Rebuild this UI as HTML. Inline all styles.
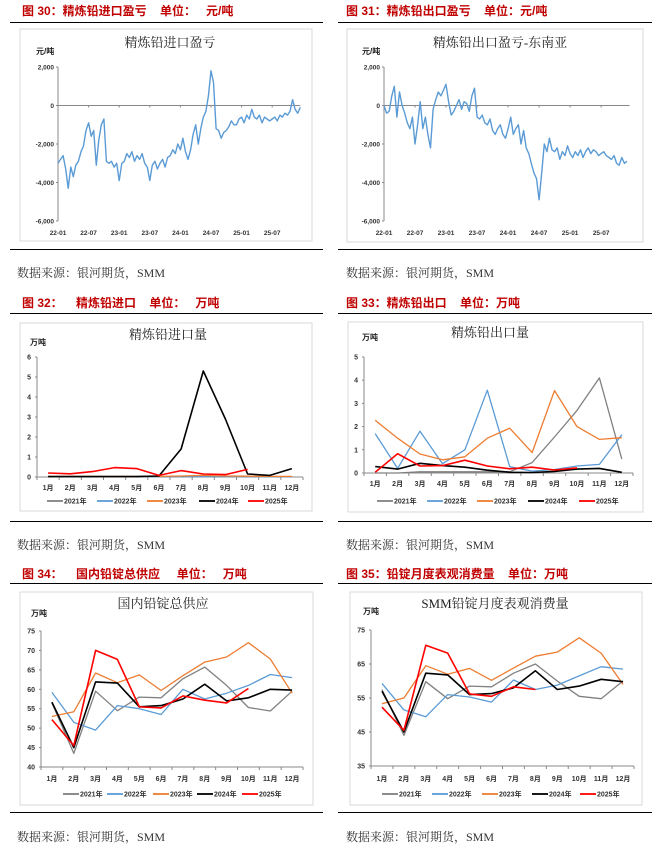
<!DOCTYPE html>
<html><head><meta charset="utf-8">
<style>
body{margin:0;background:#fff;width:659px;height:851px;overflow:hidden;position:relative;font-family:"Liberation Sans","Noto Sans CJK SC",sans-serif}
.h{position:absolute;color:#c00000;font-weight:bold;font-size:12px;white-space:pre;line-height:14px}
.rule{position:absolute;height:1px;background:#000}
.src{position:absolute;font-family:"Liberation Serif","Noto Serif CJK SC",serif;font-size:12px;color:#333}
svg{position:absolute;left:0;top:0}
</style></head><body>
<div class="h" style="left:22px;top:4px">图 30：精炼铅进口盈亏    单位：   元/吨</div>
<div class="h" style="left:346px;top:4px">图 31：精炼铅出口盈亏    单位：元/吨</div>
<div class="rule" style="left:10px;top:22px;width:313px"></div>
<div class="rule" style="left:338px;top:22px;width:314px"></div>
<div class="rule" style="left:10px;top:249px;width:313px"></div>
<div class="rule" style="left:338px;top:249px;width:314px"></div>
<div class="src" style="left:17px;top:264px">数据来源：银河期货，SMM</div>
<div class="src" style="left:346px;top:264px">数据来源：银河期货，SMM</div>

<div class="h" style="left:22px;top:296px">图 32：    精炼铅进口    单位：   万吨</div>
<div class="h" style="left:346px;top:296px">图 33：精炼铅出口    单位：万吨</div>
<div class="rule" style="left:10px;top:313px;width:313px"></div>
<div class="rule" style="left:338px;top:313px;width:314px"></div>
<div class="rule" style="left:10px;top:521px;width:313px"></div>
<div class="rule" style="left:338px;top:521px;width:314px"></div>
<div class="src" style="left:17px;top:536px">数据来源：银河期货，SMM</div>
<div class="src" style="left:346px;top:536px">数据来源：银河期货，SMM</div>

<div class="h" style="left:22px;top:567px">图 34：    国内铅锭总供应     单位：   万吨</div>
<div class="h" style="left:346px;top:567px">图 35：铅锭月度表观消费量    单位：万吨</div>
<div class="rule" style="left:10px;top:583px;width:313px"></div>
<div class="rule" style="left:338px;top:583px;width:314px"></div>
<div class="rule" style="left:10px;top:812px;width:313px"></div>
<div class="rule" style="left:338px;top:812px;width:314px"></div>
<div class="src" style="left:17px;top:828px">数据来源：银河期货，SMM</div>
<div class="src" style="left:346px;top:828px">数据来源：银河期货，SMM</div>

<svg id="s" width="659" height="851"></svg>
<script>
// ---- daily charts (2 samples per month from 22-01) ----
const importProfit = [-3000,-2800,-2600,-3300,-4300,-3200,-3700,-3100,-2900,-2400,-2100,-1300,-900,-1600,-1300,-3100,-1800,-1000,-700,-2900,-3000,-2900,-3200,-3000,-3900,-3000,-2900,-2500,-2700,-2400,-2900,-2600,-2800,-2500,-3000,-3200,-3900,-3100,-2900,-3300,-3000,-2800,-3200,-2700,-2600,-2300,-2500,-2000,-2300,-1700,-2400,-2800,-2300,-1500,-1000,-2000,-1200,-600,-300,500,1800,1200,-1200,-1300,-1700,-1400,-1300,-1100,-800,-1000,-1000,-700,-600,-900,-500,-700,-200,-600,-700,-500,-900,-600,-700,-800,-700,-600,-800,-500,-600,-400,-500,-300,300,-200,-400,-100];
const exportProfit = [0,-400,-300,500,1000,-600,700,0,-400,-900,-1200,-600,-2000,-1000,200,-1200,-600,-1500,-2200,-200,300,700,500,800,1100,200,-500,-300,0,300,-200,200,100,-300,500,900,-600,-700,-500,-900,-1000,-700,-1300,-1500,-1200,-1000,-1500,-1700,-1200,-600,-1500,-1200,-1000,-2000,-1300,-2200,-2500,-3000,-3500,-3800,-4900,-3500,-2000,-2400,-1700,-2300,-2400,-2200,-2800,-2400,-2600,-2100,-2500,-2700,-2400,-2600,-2300,-2700,-2400,-2200,-2500,-2300,-2400,-2600,-2500,-2400,-2600,-2700,-2800,-2600,-3000,-3100,-2700,-3000,-2900];
const dateTicks = ["22-01","22-07","23-01","23-07","24-01","24-07","25-01","25-07"];
const profitTicks = [2000,0,-2000,-4000,-6000];
const profitTickLabels = ["2,000","0","-2,000","-4,000","-6,000"];
// ---- monthly charts ----
const months = ["1月","2月","3月","4月","5月","6月","7月","8月","9月","10月","11月","12月"];
const years = ["2021年","2022年","2023年","2024年","2025年"];
const imp2021=[0.01,0.01,0.01,0.01,0.01,0.02,0.02,0.03,0.02,0.02,0.02,0.02];
const imp2022=[0.02,0.02,0.02,0.02,0.02,0.02,0.02,0.02,0.02,0.02,0.02,0.02];
const imp2023=[0.03,0.03,0.03,0.03,0.03,0.03,0.05,0.08,0.05,0.04,0.03,0.03];
const imp2024=[0.02,0.02,0.02,0.02,0.02,0.05,1.4,5.3,2.9,0.15,0.08,0.42];
const imp2025=[0.2,0.16,0.27,0.47,0.42,0.08,0.32,0.15,0.12,0.38];
const exp2021=[0,0,0.05,0.05,0.05,0.05,0.05,0.45,1.55,2.7,4.1,0.6];
const exp2022=[1.7,0.2,1.8,0.4,1.0,3.57,0.27,0.08,0.15,0.3,0.37,1.65];
const exp2023=[2.27,1.5,0.82,0.57,0.7,1.5,1.93,0.88,3.55,2.0,1.45,1.52];
const exp2024=[0.28,0.17,0.42,0.32,0.25,0.12,0.03,0.02,0.07,0.17,0.2,0.03];
const exp2025=[0.03,0.83,0.3,0.32,0.55,0.3,0.18,0.25,0.13,0.22];
const sup2021=[56.5,43.5,59.5,54.5,58,57.8,62.7,65.7,61,55.3,54.4,59.5];
const sup2022=[59.2,51.5,49.5,55.8,55,53.5,60,57.5,59,61,63.8,63];
const sup2023=[53,54.2,64.2,61.7,63.7,59.7,63.5,67,68.3,72,67.8,59];
const sup2024=[56.7,45,61.9,61.6,55.5,55.8,57.5,61.3,57,57.8,60,59.8];
const sup2025=[52.2,45.5,70,67.7,55.5,55.2,58.3,57.2,56.5,60.2];
const con2021=[57.5,44,59.8,54.8,58.5,58.3,62.3,65,60,55.5,54.8,60];
const con2022=[59.3,51.5,49.5,56,55.3,53.8,60.3,57.5,58.8,61.5,64.2,63.5];
const con2023=[53.3,55,64.5,62,63.7,60.2,63.8,67.3,68.5,72.7,68.2,59];
const con2024=[57,45,62.3,61.8,56,56.3,58,63,57.5,58.5,60.5,59.8];
const con2025=[52.3,45.5,70.5,68.2,56.2,55.5,58.3,57.5];
const impTicks=[0,1,2,3,4,5,6], expTicks=[0,1,2,3,4,5];
const supTicks=[40,45,50,55,60,65,70,75], conTicks=[35,45,55,65,75];

const S=document.getElementById('s'), NS='http://www.w3.org/2000/svg';
function mk(t,a,txt){const e=document.createElementNS(NS,t);for(const k in a)e.setAttribute(k,a[k]);if(txt!==undefined)e.textContent=txt;S.appendChild(e);return e;}
const colors=['#808080','#5b9bd5','#ed7d31','#000000','#ff0000'];
const SERIF='"Liberation Serif","Noto Serif CJK SC",serif';
const SANS='"Liberation Sans","Noto Sans CJK SC",sans-serif';

function frame(x,y,w,h,title,tx,ty,unitX,unitY,unit){
  const f=mk('rect',{x:x,y:y,width:w,height:h,fill:'#fff',stroke:'#d9d9d9','stroke-width':1});
  
  const t=mk('text',{x:tx,y:ty,'text-anchor':'middle','font-size':13,'font-family':SERIF,fill:'#222'},title);
  
  const u=mk('text',{x:unitX,y:unitY,'font-size':8,'font-weight':'bold','font-family':SANS,fill:'#222'},unit);
  
}

function daily(cfg,data){
  const ax=cfg.ax, yTop=cfg.yTop, yBot=cfg.yBot, vmax=2000, vmin=-6000;
  const Y=v=>yTop+(vmax-v)/(vmax-vmin)*(yBot-yTop);
  const X=m=>ax+m*cfg.pm;
  const a=mk('line',{x1:ax,y1:yTop,x2:ax,y2:yBot,stroke:'#888','stroke-width':1});
  
  profitTicks.forEach((v,i)=>{
    const l=mk('text',{x:ax-4,y:Y(v)+2.5,'text-anchor':'end','font-size':6.5,'font-weight':'bold','font-family':SANS,fill:'#333'},profitTickLabels[i]);
    
    mk('line',{x1:ax-2,y1:Y(v),x2:ax,y2:Y(v),stroke:'#888'});
  });
  const z=mk('line',{x1:ax,y1:Y(0),x2:X(47.5),y2:Y(0),stroke:'#888','stroke-width':1});
  
  dateTicks.forEach((d,i)=>{
    const x=X(i*6);
    mk('line',{x1:x,y1:Y(0),x2:x,y2:Y(0)+2,stroke:'#888'});
    const l=mk('text',{x:x,y:cfg.labY,'text-anchor':'middle','font-size':6.5,'font-weight':'bold','font-family':SANS,fill:'#333'},d);
    
  });
  const pts=data.map((v,i)=>X(i/2).toFixed(1)+','+Y(v).toFixed(1)).join(' ');
  const p=mk('polyline',{points:pts,fill:'none',stroke:'#5b9bd5','stroke-width':1.4,'stroke-linejoin':'round'});
  
}

function monthly(cfg,series,ticks,tickLabels){
  const {ax,right,yTop,yBot,vmin,vmax}=cfg;
  const Y=v=>yBot-(v-vmin)/(vmax-vmin)*(yBot-yTop);
  const bw=(right-ax)/12, X=i=>ax+bw*(i+0.5);
  const a=mk('line',{x1:ax,y1:yTop,x2:ax,y2:yBot,stroke:'#888'});
  
  const b=mk('line',{x1:ax,y1:yBot,x2:right,y2:yBot,stroke:'#888'});
  
  ticks.forEach(v=>{
    mk('line',{x1:ax-2,y1:Y(v),x2:ax,y2:Y(v),stroke:'#888'});
    const l=mk('text',{x:ax-6,y:Y(v)+2.5,'text-anchor':'end','font-size':7,'font-weight':'bold','font-family':SANS,fill:'#333'},String(v));
    
  });
  for(let i=0;i<=12;i++)mk('line',{x1:ax+bw*i,y1:yBot,x2:ax+bw*i,y2:yBot+3,stroke:'#888'});
  months.forEach((m,i)=>{
    const l=mk('text',{x:X(i),y:cfg.labY,'text-anchor':'middle','font-size':7,'font-weight':'bold','font-family':SANS,fill:'#333'},m);
    
  });
  series.forEach((s,k)=>{
    const pts=s.map((v,i)=>X(i).toFixed(1)+','+Y(v).toFixed(1)).join(' ');
    const p=mk('polyline',{points:pts,fill:'none',stroke:colors[k],'stroke-width':k>=3?1.6:1.3,'stroke-linejoin':'round'});
    
  });
  years.forEach((y,k)=>{
    const lx=cfg.leg[k];
    const g=mk('line',{x1:lx,y1:cfg.legY,x2:lx+16,y2:cfg.legY,stroke:colors[k],'stroke-width':1.8});
    
    const t=mk('text',{x:lx+17,y:cfg.legY+2.5,'font-size':7,'font-weight':'bold','font-family':SANS,fill:'#333'},y);
    
  });
}

// chart 30
frame(20,29,292,212,'精炼铅进口盈亏',170,47,36,54,'元/吨');
daily({ax:58,yTop:67,yBot:221,pm:5.1,labY:235},importProfit);
// chart 31
frame(347,29,296,213,'精炼铅出口盈亏-东南亚',500,47,362,54,'元/吨');
daily({ax:384,yTop:67,yBot:221,pm:5.17,labY:235},exportProfit);
// chart 32
frame(20,323,292,188,'精炼铅进口量',168,339,30,345,'万吨');
monthly({ax:37,right:303,yTop:357,yBot:477,vmin:0,vmax:6,labY:490,legY:501,leg:[47,97,147,199,248]},
  [imp2021,imp2022,imp2023,imp2024,imp2025],impTicks);
// chart 33
frame(348,322,295,190,'精炼铅出口量',490,337,362,340,'万吨');
monthly({ax:364,right:633,yTop:357,yBot:473,vmin:0,vmax:5,labY:486,legY:501,leg:[377,427,477,528,579]},
  [exp2021,exp2022,exp2023,exp2024,exp2025],expTicks);
// chart 34
frame(20,592,293,213,'国内铅锭总供应',163,608,31,616,'万吨');
monthly({ax:41,right:303,yTop:631,yBot:767,vmin:40,vmax:75,labY:781,legY:794,leg:[63,107,153,197,242]},
  [sup2021,sup2022,sup2023,sup2024,sup2025],supTicks);
// chart 35
frame(350,592,292,213,'SMM铅锭月度表观消费量',495,608,363,614,'万吨');
monthly({ax:371,right:634,yTop:630,yBot:766,vmin:35,vmax:75,labY:781,legY:794,leg:[382,432,482,532,580]},
  [con2021,con2022,con2023,con2024,con2025],conTicks);
</script>
</body></html>
